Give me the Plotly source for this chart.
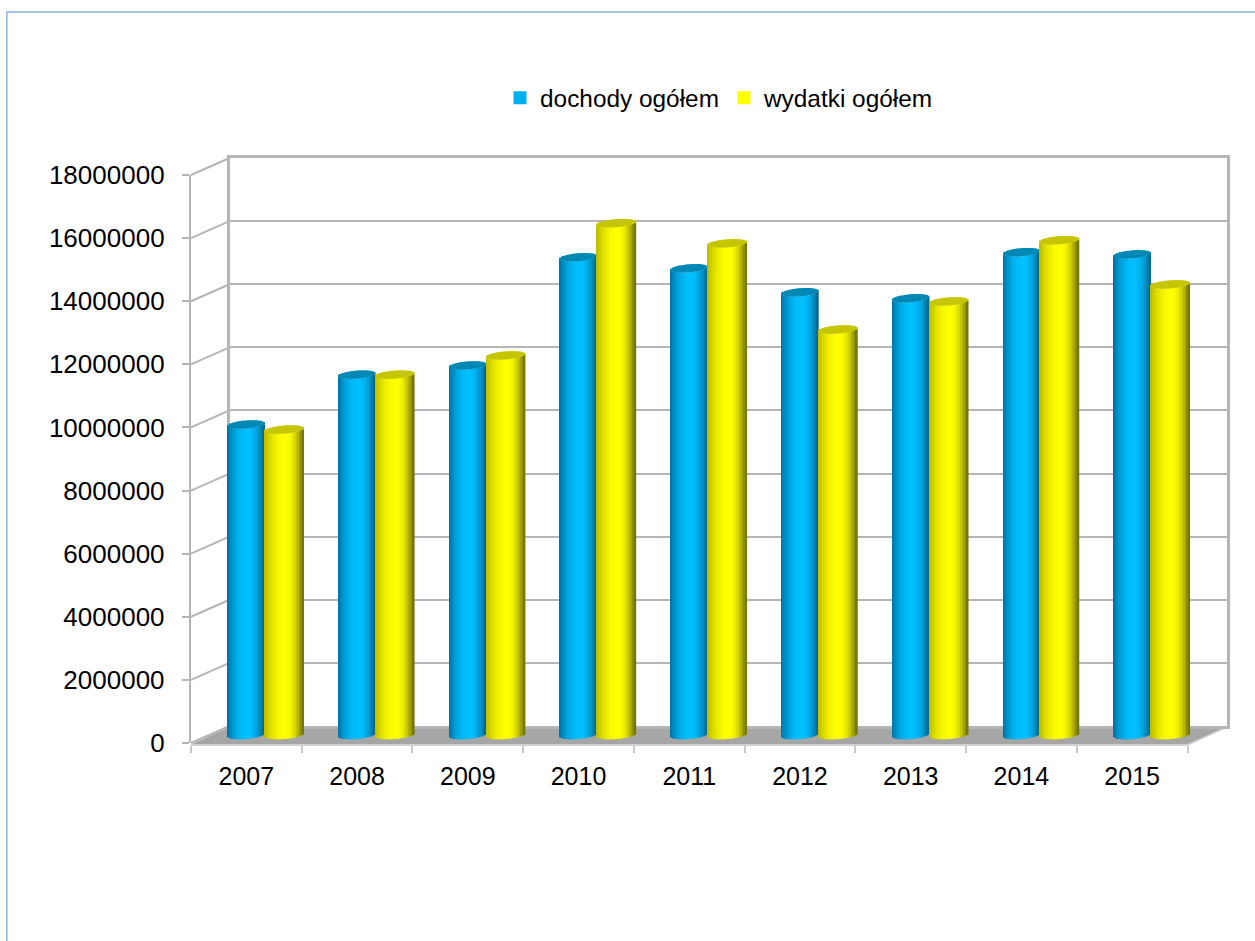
import math
import plotly.graph_objects as go

# ---- data ----
years = ["2007", "2008", "2009", "2010", "2011", "2012", "2013", "2014", "2015"]
dochody = [9840000, 11420000, 11710000, 15140000, 14790000, 14030000, 13840000, 15300000, 15230000]
wydatki = [9680000, 11420000, 12030000, 16220000, 15580000, 12850000, 13740000, 15680000, 14280000]
y_ticks = [0, 2000000, 4000000, 6000000, 8000000, 10000000, 12000000, 14000000, 16000000, 18000000]

# ---- layout geometry (pixels in a 1255x941 picture) ----
W, H = 1255, 941
Y_MAX = 18000000
def px(x): return x / W
def py(y): return 1 - y / H

FRONT_X = (191, 1187.5); FRONT_Y = (743, 175)
BACK_X = (229.5, 1227); BACK_Y = (726, 158)
BAR_X = (210, 1207); BAR_Y = (735, 167)
BAR_PAD = 12  # pixels kept below the zero line for the round feet of the bars
GREY = "#B5B5B5"
TEXT = "#000000"
FONT = "Liberation Sans"

STEP = (BAR_X[1] - BAR_X[0]) / len(years)
UNIT_Y = Y_MAX / (BAR_Y[0] - BAR_Y[1])
ELL = 4 * UNIT_Y
TILT = 1.5 * UNIT_Y
STRIP = 1.5


def mix(a, b, t):
    return "rgb(%d,%d,%d)" % tuple(round(a[i] + (b[i] - a[i]) * t) for i in range(3))


def cylinder(values, name, center, radius, left, right, bright, cap):
    n = int(2 * radius / STRIP)
    xs, side_y, side_b, side_c, offs, widths = [], [], [], [], [], []
    cap_y, cap_b = [], []
    for k in range(n):
        u = -1 + (k + 0.5) * 2 / n
        s = math.sqrt(max(0, 1 - u * u))
        pos = center + u * radius
        u0 = 0.1
        d = (u - u0) / (1 - u0) if u > u0 else (u0 - u) / (1 + u0)
        t = 1 - d ** 2.0
        col = mix(right if u > u0 else left, bright, t)
        for yr, v in zip(years, values):
            xs.append(yr)
            side_y.append(v)
            side_b.append(-ELL * s + TILT * u)
            side_c.append(col)
            offs.append((pos - STRIP * 0.6) / STEP)
            widths.append(STRIP * 1.2 / STEP)
            cap_y.append(2 * ELL * s)
            cap_b.append(v - ELL * s + TILT * u)
    common = dict(x=xs, offset=offs, width=widths, xaxis="x3", yaxis="y3",
                  cliponaxis=False, showlegend=False, name=name, hoverinfo="skip")
    return [
        go.Bar(y=side_y, base=side_b, marker=dict(color=side_c, line=dict(width=0)), **common),
        go.Bar(y=cap_y, base=cap_b, marker=dict(color=cap, line=dict(width=0)), **common),
    ]


fig = go.Figure()

# axes need a trace to be drawn
fig.add_trace(go.Scatter(x=[0], y=[0], xaxis="x", yaxis="y", mode="none", showlegend=False, hoverinfo="skip"))
fig.add_trace(go.Scatter(x=[None], y=[None], xaxis="x2", yaxis="y2", mode="markers", name="dochody ogółem",
                         marker=dict(symbol="square", size=13, color="#00B0F0")))
fig.add_trace(go.Scatter(x=[None], y=[None], xaxis="x2", yaxis="y2", mode="markers", name="wydatki ogółem",
                         marker=dict(symbol="square", size=13, color="#FFFF00")))

for tr in cylinder(dochody, "dochody ogółem", -19.2, 18.5, (0, 112, 160), (0, 96, 136), (0, 191, 255), "#0088B4"):
    fig.add_trace(tr)
for tr in cylinder(wydatki, "wydatki ogółem", 18.8, 19.5, (185, 185, 0), (105, 105, 0), (255, 255, 0), "#C6C600"):
    fig.add_trace(tr)

# floor, wall links and picture frame
shapes = []
floor = [(191, 744.5), (BACK_X[0], 727), (BACK_X[1], 727), (FRONT_X[1], 744.5)]
path = "M " + " L ".join(f"{px(a)},{py(b)}" for a, b in floor) + " Z"
shapes.append(dict(type="path", xref="paper", yref="paper", path=path, fillcolor="#A6A6A6",
                   line=dict(width=0), layer="below"))
for v in y_ticks:
    yf = FRONT_Y[0] + (FRONT_Y[1] - FRONT_Y[0]) * v / Y_MAX
    yb = BACK_Y[0] + (BACK_Y[1] - BACK_Y[0]) * v / Y_MAX
    shapes.append(dict(type="line", xref="paper", yref="paper", x0=px(FRONT_X[0]), y0=py(yf),
                       x1=px(BACK_X[0]), y1=py(yb), line=dict(color=GREY, width=2), layer="below"))
shapes.append(dict(type="line", xref="paper", yref="paper", x0=px(FRONT_X[1]), y0=py(745),
                   x1=px(BACK_X[1]), y1=py(727), line=dict(color="#D0D0D0", width=1.5), layer="below"))
shapes.append(dict(type="line", xref="paper", yref="paper", x0=px(6.8), y0=0, x1=px(6.8), y1=py(12),
                   line=dict(color="#8DBAE6", width=1.6), layer="below"))
shapes.append(dict(type="line", xref="paper", yref="paper", x0=px(6.8), y0=py(12), x1=1, y1=py(12),
                   line=dict(color="#7FAEDF", width=1.4), layer="below"))

hidden = dict(visible=False)
fig.update_layout(
    template="none",
    width=W, height=H, margin=dict(l=0, r=0, t=0, b=0, autoexpand=False),
    paper_bgcolor="white", plot_bgcolor="rgba(0,0,0,0)",
    barmode="overlay", hovermode=False, shapes=shapes,
    font=dict(family=FONT, size=25, color=TEXT),
    legend=dict(orientation="h", x=px(500), y=py(98), xanchor="left", yanchor="middle",
                font=dict(size=24.4, family=FONT), bgcolor="rgba(0,0,0,0)", itemclick=False,
                entrywidth=179, entrywidthmode="pixels", traceorder="normal"),
    # back wall
    xaxis=dict(domain=[px(BACK_X[0]), px(BACK_X[1])], range=[0, 1], anchor="y", showgrid=False,
               zeroline=False, showticklabels=False, ticks="", showline=True, linecolor=GREY,
               linewidth=2.6, mirror=True, automargin=False),
    yaxis=dict(domain=[py(BACK_Y[0]), py(BACK_Y[1])], range=[0, Y_MAX], anchor="x", tickvals=y_ticks,
               showgrid=True, gridcolor=GREY, gridwidth=2.4, zeroline=False, showticklabels=False,
               ticks="", showline=True, linecolor=GREY, linewidth=3, mirror=True, automargin=False),
    # front axes
    xaxis2=dict(domain=[px(FRONT_X[0]), px(FRONT_X[1])], type="category", categoryorder="array",
                categoryarray=years, tickvals=years, ticktext=years, range=[-0.5, len(years) - 0.5],
                tickson="boundaries", anchor="free", position=py(745), showgrid=False, zeroline=False,
                showline=True, linecolor="#D0D0D0", linewidth=1.5, ticks="outside", ticklen=7,
                tickwidth=1.5, tickcolor="#C8C8C8", tickfont=dict(size=25, family=FONT, color=TEXT),
                ticklabelstandoff=9, automargin=False),
    yaxis2=dict(domain=[py(FRONT_Y[0]), py(FRONT_Y[1])], range=[0, Y_MAX], anchor="x2", tickvals=y_ticks,
                ticktext=[str(v) for v in y_ticks], showgrid=False, zeroline=False, showline=True,
                linecolor=GREY, linewidth=2.4, ticks="outside", ticklen=7, tickwidth=1.5, tickcolor=GREY,
                tickfont=dict(size=26, family=FONT, color=TEXT), ticklabelstandoff=12, automargin=False),
    # bars
    xaxis3=dict(domain=[px(BAR_X[0]), px(BAR_X[1])], type="category", categoryorder="array",
                categoryarray=years, range=[-0.5, len(years) - 0.5], anchor="y3", automargin=False, **hidden),
    yaxis3=dict(domain=[py(BAR_Y[0] + BAR_PAD), py(BAR_Y[1])], range=[-BAR_PAD * UNIT_Y, Y_MAX], anchor="x3",
                automargin=False, **hidden),
)

fig.write_html("out.html", config=dict(displayModeBar=False),
               post_script="document.body.style.margin='0';document.body.style.overflow='hidden';")
